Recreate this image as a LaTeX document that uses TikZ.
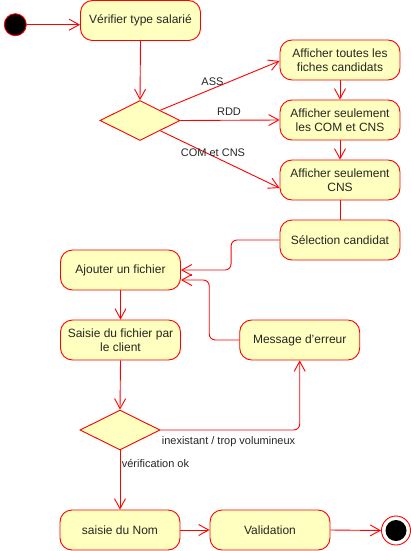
\documentclass[tikz,border=0pt]{standalone}
\usepackage{fontspec}
\setmainfont{Liberation Sans}
\usetikzlibrary{shapes.geometric,arrows.meta,calc}
\definecolor{umlfill}{RGB}{255,255,192}
\definecolor{umlred}{RGB}{255,0,0}
\begin{document}
\begin{tikzpicture}[x=1pt,y=-1pt,
  font=\fontsize{12}{13.5}\selectfont,
  act/.style={draw=umlred, fill=umlfill, line width=0.9pt, rounded corners=12pt,
    minimum width=120pt, minimum height=40pt, inner sep=0pt, align=center, text=black!85},
  dec/.style={draw=umlred, fill=umlfill, line width=0.9pt, diamond, aspect=2,
    minimum width=80pt, minimum height=40pt, inner sep=0pt},
  flow/.style={draw=umlred, line width=0.9pt, -{Straight Barb[length=10pt,width=11pt]}},
  plain/.style={draw=umlred, line width=0.9pt},
  lab/.style={text=black!85, inner sep=0pt, font=\fontsize{11}{13}\selectfont}
]
\useasboundingbox (0,0) rectangle (411,551);

% start / end
\node[circle, draw=umlred, fill=black, line width=0.9pt, minimum size=22pt, inner sep=0pt] (ini) at (15.3,24.7) {};
\node[circle, draw=umlred, fill=white, line width=0.9pt, minimum size=29pt, inner sep=0pt] (fin) at (396,530.5) {};
\fill[black] (fin.center) circle (10.5pt);

% activities
\node[act] (verif) at (140.5,20.5) {Vérifier type salarié};
\node[act] (a1) at (340,60) {Afficher toutes les\\fiches candidats};
\node[act] (a2) at (340,120) {Afficher seulement\\les COM et CNS};
\node[act] (a3) at (340,180) {Afficher seulement\\CNS};
\node[act] (sel) at (340,240) {Sélection candidat};
\node[act] (aj) at (120.5,270) {Ajouter un fichier};
\node[act] (sai) at (120.5,340) {Saisie du fichier par\\le client};
\node[act] (msg) at (299.7,340) {Message d\char`\'erreur};
\node[act] (nom) at (120,530) {saisie du Nom};
\node[act] (val) at (270,530) {Validation};

% decisions
\node[dec] (d1) at (140,120.5) {};
\node[dec] (d2) at (120,430) {};

% connectors
\draw[flow] (ini.east) -- (ini.east -| verif.west);
\draw[flow] (verif.south) -- (d1.north);
\draw[flow] (d1.north east) -- ([yshift=-1pt]a1.west);
\draw[flow] (d1.east) -- (a2.west);
\draw[flow] (d1.south east) -- ([yshift=-8pt]a3.west);
\draw[flow] (a1.south) -- (a2.north);
\draw[flow] (a2.south) -- (a3.north);
\draw[plain] (a3.south) -- (sel.north);
\draw[flow, rounded corners=6pt] (sel.west) -- ++(-48.5,0) |- (aj.east);
\draw[flow, rounded corners=6pt] (msg.west) -- ++(-30,0) |- ([yshift=-10pt]aj.east);
\draw[flow] (aj.south) -- (sai.north);
\draw[flow] (sai.south) -- (d2.north);
\draw[flow, rounded corners=6pt] (d2.east) -| (msg.south);
\draw[flow] (d2.south) -- (nom.north);
\draw[flow] (nom.east) -- (val.west);
\draw[flow] (val.east) -- (fin.west);

% labels
\node[lab] (lass) at (212.5,82) {ASS};
\node[lab] (lrdd) at (229,112) {RDD};
\node[lab] (lcom) at (213,153) {COM et CNS};
\node[lab] (linex) at (228.5,442) {inexistant / trop volumineux};
\node[lab] (lok) at (155.5,463) {vérification ok};
\end{tikzpicture}
\end{document}
